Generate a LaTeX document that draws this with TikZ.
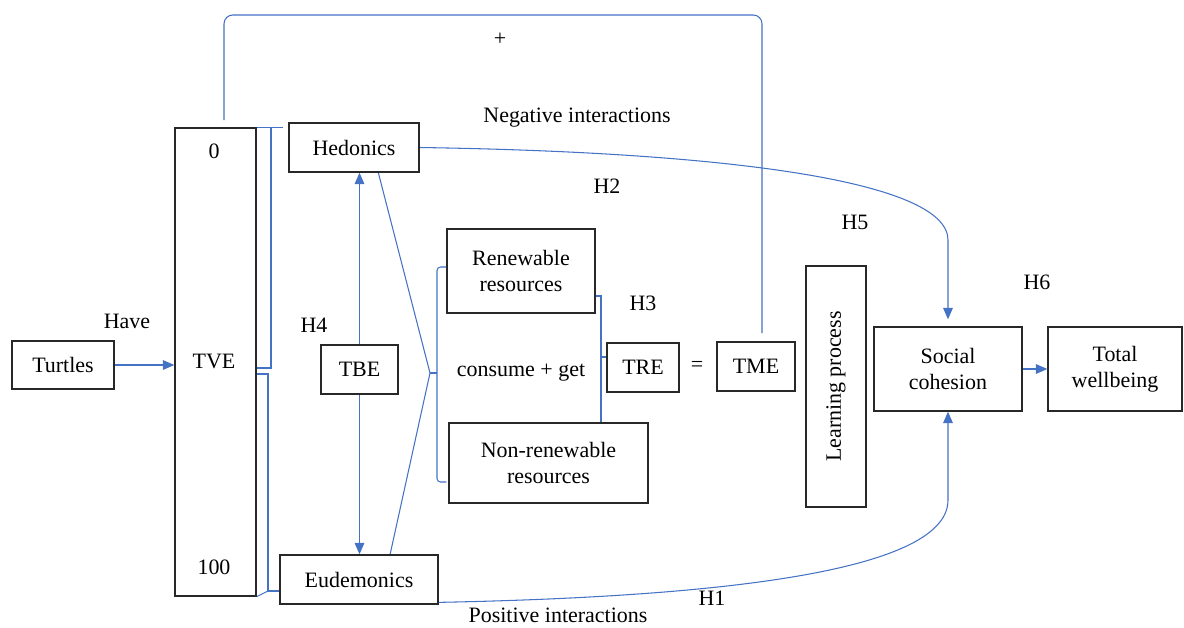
\documentclass[tikz,border=0pt]{standalone}
\usepackage{fontspec}
\setmainfont{Liberation Serif}
\usepackage{tikz}
\definecolor{white}{rgb}{1.0, 1.0, 1.0}
\definecolor{darkline}{RGB}{40,40,40}
\definecolor{lblue}{RGB}{68,114,196}
\usetikzlibrary{arrows.meta}
\pgfdeclarelayer{edgelayer}
\pgfdeclarelayer{nodelayer}
\pgfsetlayers{edgelayer,nodelayer,main}
\tikzstyle{box}=[draw=darkline,fill=white,line width=0.8pt,inner sep=0pt,align=center,font=\fontsize{12.5}{15}\selectfont]
\tikzstyle{tag}=[inner sep=0pt,font=\fontsize{12.5}{15}\selectfont]
\tikzstyle{link}=[draw=lblue,line width=0.6pt]
\tikzstyle{arrow}=[link,-{Triangle[length=6.5pt,width=5.5pt]}]

\begin{document}
\begin{tikzpicture}[x=0.02cm, y=-0.02cm]
        \useasboundingbox (0, 0) rectangle (1184, 627);
        \begin{pgfonlayer}{nodelayer}
            \node [style = box, minimum width=2.04cm, minimum height=0.96cm] (turtles) at (63, 365) {Turtles};
            \node [style = box, minimum width=1.62cm, minimum height=9.36cm] (tve) at (215.5, 362) {};
            \node [style = tag] (zero) at (214, 151) {0};
            \node [style = tag] (tvetext) at (214, 361) {TVE};
            \node [style = tag] (hundred) at (214, 567) {100};

            \node [style = box, minimum width=2.6cm, minimum height=0.98cm] (hedonics) at (354, 147.5) {Hedonics};
            \node [style = box, minimum width=3.16cm, minimum height=0.98cm] (eudemonics) at (359, 579.5) {Eudemonics};
            \node [style = box, minimum width=1.54cm, minimum height=0.98cm] (tbe) at (359.5, 369.5) {TBE};

            \node [style = box, minimum width=2.96cm, minimum height=1.68cm] (renewable) at (521, 271) {Renewable\\resources};
            \node [style = tag] (consume) at (521, 373) {consume + get};
            \node [style = box, minimum width=3.98cm, minimum height=1.6cm] (nonrenewable) at (548.5, 463) {Non-renewable\\resources};

            \node [style = box, minimum width=1.44cm, minimum height=0.98cm] (tre) at (643, 367.5) {TRE};
            \node [style = tag] (eq) at (697, 366) {=};
            \node [style = box, minimum width=1.56cm, minimum height=0.98cm] (tme) at (756, 366.5) {TME};
            \node [style = box, rotate=90, minimum width=4.82cm, minimum height=1.2cm] (learning) at (836, 386.5) {Learning process};
            \node [style = box, minimum width=2.96cm, minimum height=1.68cm] (social) at (948, 369) {Social\\cohesion};
            \node [style = box, minimum width=2.68cm, minimum height=1.68cm] (total) at (1115, 369) {Total\\wellbeing};

            \node [style = tag] (have) at (127, 321) {Have};
            \node [style = tag] (h1) at (712, 598) {H1};
            \node [style = tag] (h2) at (607, 186) {H2};
            \node [style = tag] (h3) at (643, 303) {H3};
            \node [style = tag] (h4) at (314, 325) {H4};
            \node [style = tag] (h5) at (855, 222) {H5};
            \node [style = tag] (h6) at (1037, 282) {H6};
            \node [style = tag] (plus) at (500, 39) {+};
            \node [style = tag] (neg) at (577, 118) {Negative interactions};
            \node [style = tag] (pos) at (558, 615) {Positive interactions};
        \end{pgfonlayer}

        \begin{pgfonlayer}{edgelayer}
            \coordinate (hbtop) at (271, 128);
            \coordinate (hbbot) at (271, 368);
            \coordinate (ebtop) at (268, 374);
            \coordinate (ebbot) at (268, 591);
            \coordinate (brace) at (430, 373);
            \coordinate (bracetop) at (437, 267);
            \coordinate (bracebot) at (437, 482);
            \coordinate (rbtop) at (601, 296);
            \coordinate (rbmid) at (601, 357);
            \coordinate (rbbot) at (601, 422);
            \coordinate (loopstart) at (224, 120);
            \coordinate (loopend) at (762, 333);

            \draw [style = arrow] (turtles.east) to (turtles.east -| tve.west);

            \draw [style = link, shorten >=3pt] (tve.north east) to (tve.north east -| hedonics.west);
            \draw [style = link] (hbtop) -- (hbbot) -- (hbbot -| tve.east);
            \draw [style = link] (ebtop -| tve.east) -- (ebtop) -- (ebbot) -- (ebbot -| eudemonics.west);
            \draw [style = link] (tve.south east) to (ebbot);

            \draw [style = arrow] (tbe.north) to (tbe.north |- hedonics.south);
            \draw [style = arrow] (tbe.south) to (tbe.south |- eudemonics.north);

            \draw [style = link] (hedonics.-46) to (brace);
            \draw [style = link] (eudemonics.39) to (brace);
            \draw [style = link] (brace) to (brace -| bracetop);
            \draw [style = link, rounded corners=2] (bracetop -| renewable.west) -- (bracetop) -- (bracebot) -- (bracebot -| renewable.west);

            \draw [style = link] (rbtop -| renewable.east) -- (rbtop) -- (rbbot);
            \draw [style = link] (rbmid) to (rbmid -| tre.west);

            \draw [style = link, rounded corners=5] (loopstart) -- (224, 15) -- (762, 15) -- (loopend);

            \draw [style = arrow, shorten >=4pt] (hedonics.east) .. controls (720, 152) and (948, 180) .. (948, 240) -- (social.north);
            \draw [style = arrow] (eudemonics.-16) .. controls (760, 596) and (948, 565) .. (948, 500) -- (social.south);
            \draw [style = arrow] (social.east) to (total.west);
        \end{pgfonlayer}
    \end{tikzpicture}
\end{document}
